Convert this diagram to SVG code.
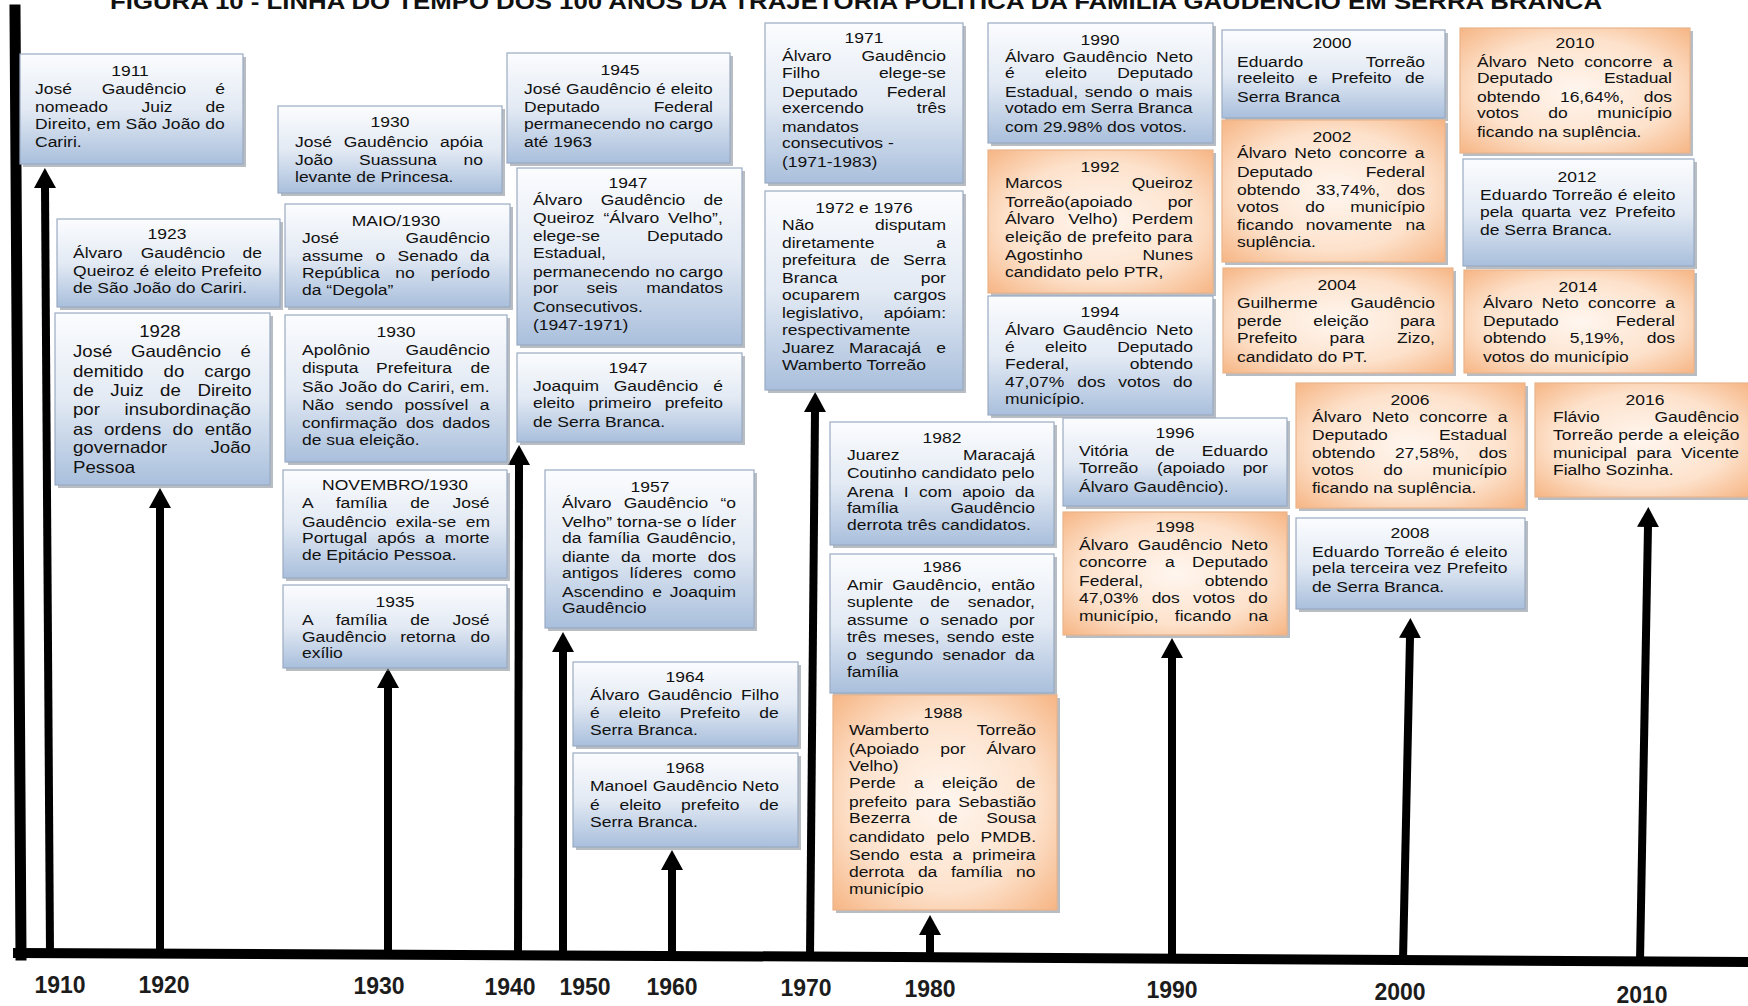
<svg xmlns="http://www.w3.org/2000/svg" width="1748" height="1006" viewBox="0 0 1748 1006">
<defs>
<linearGradient id="gb" x1="0" y1="0" x2="0" y2="1"><stop offset="0" stop-color="#fbfcfe"/><stop offset="0.5" stop-color="#e3eaf4"/><stop offset="1" stop-color="#a9bfdc"/></linearGradient>
<radialGradient id="go" cx="0.5" cy="0.5" r="0.75"><stop offset="0" stop-color="#fff6ef"/><stop offset="0.55" stop-color="#fde2cc"/><stop offset="1" stop-color="#f5ae79"/></radialGradient>
<marker id="ah" markerUnits="userSpaceOnUse" markerWidth="20" markerHeight="22" viewBox="0 0 20 22" refX="1" refY="11" orient="auto"><path d="M0,0 L20,11 L0,22 z" fill="#000"/></marker>
<style>
.bx text{font-family:"Liberation Sans",Arial,sans-serif;font-size:15.5px;fill:#111;transform-box:fill-box;transform-origin:0% 50%;transform:scaleX(1.13)}
.bx text.m{text-anchor:middle;transform-origin:50% 50%}
.bx text.e{text-anchor:end;transform-origin:100% 50%}
.lg text{font-size:16.5px}
.blue{fill:url(#gb);stroke:#9aabc2;stroke-width:1.2}
.orng{fill:url(#go);stroke:#e9b48c;stroke-width:1.2}
.sh{fill:#7d8794;opacity:.55}
.yr{font-family:"Liberation Sans",Arial,sans-serif;font-size:23px;font-weight:bold;fill:#1c1c1c;text-anchor:middle}
.ttl{font-family:"Liberation Sans",Arial,sans-serif;font-size:22px;font-weight:bold;fill:#111}
.ar{stroke:#000;stroke-width:8;fill:none;marker-end:url(#ah)}
.ax{stroke:#000;fill:none;stroke-linecap:square}
</style>
</defs>
<rect width="1748" height="1006" fill="#fff"/>
<text class="ttl" x="110" y="9" textLength="1492" lengthAdjust="spacingAndGlyphs">FIGURA 10 - LINHA DO TEMPO DOS 100 ANOS DA TRAJETÓRIA POLÍTICA DA FAMÍLIA GAUDÊNCIO EM SERRA BRANCA</text>

<g id="connectors">
<line class="ax" x1="15" y1="10" x2="21" y2="955" stroke-width="11"/>
<polyline class="ax" points="18,953 900,957 1748,962" stroke-width="10"/>
<line class="ar" x1="50" y1="953" x2="45" y2="187"/>
<line class="ar" x1="160" y1="953" x2="160" y2="507"/>
<line class="ar" x1="388" y1="954" x2="388" y2="687"/>
<line class="ar" x1="518" y1="955" x2="519" y2="464"/>
<line class="ar" x1="563" y1="955" x2="563" y2="651"/>
<line class="ar" x1="672" y1="955" x2="672" y2="869"/>
<line class="ar" x1="810" y1="956" x2="815" y2="411"/>
<line class="ar" x1="930" y1="956" x2="930" y2="934"/>
<line class="ar" x1="1172" y1="958" x2="1172" y2="657"/>
<line class="ar" x1="1403" y1="960" x2="1410" y2="637"/>
<line class="ar" x1="1640" y1="961" x2="1648" y2="526"/>
</g>

<g id="axis-labels">
<text class="yr" x="60" y="993">1910</text>
<text class="yr" x="164" y="993">1920</text>
<text class="yr" x="379" y="994">1930</text>
<text class="yr" x="510" y="995">1940</text>
<text class="yr" x="585" y="995">1950</text>
<text class="yr" x="672" y="995">1960</text>
<text class="yr" x="806" y="996">1970</text>
<text class="yr" x="930" y="997">1980</text>
<text class="yr" x="1172" y="998">1990</text>
<text class="yr" x="1400" y="1000">2000</text>
<text class="yr" x="1642" y="1003">2010</text>
</g>

<g id="n1911" class="bx">
<rect class="sh" x="23" y="57" width="223" height="110"/><rect class="blue" x="20" y="54" width="223" height="110"/>
<text class="m" x="130" y="76">1911</text>
<text x="35" y="94">José</text><text class="m" x="144" y="94">Gaudêncio</text><text class="e" x="225" y="94">é</text>
<text x="35" y="112">nomeado</text><text class="m" x="157" y="112">Juiz</text><text class="e" x="225" y="112">de</text>
<text x="35" y="129" textLength="168" lengthAdjust="spacing">Direito, em São João do</text>
<text x="35" y="147">Cariri.</text>
</g>

<g id="n1923" class="bx">
<rect class="sh" x="60" y="222" width="223" height="88"/><rect class="blue" x="57" y="219" width="223" height="88"/>
<text class="m" x="167" y="239">1923</text>
<text x="73" y="258">Álvaro</text><text class="m" x="183" y="258">Gaudêncio</text><text class="e" x="262" y="258">de</text>
<text x="73" y="276" textLength="167" lengthAdjust="spacing">Queiroz é eleito Prefeito</text>
<text x="73" y="293">de São João do Cariri.</text>
</g>

<g id="n1928" class="bx lg">
<rect class="sh" x="58" y="316" width="215" height="172"/><rect class="blue" x="55" y="313" width="215" height="172"/>
<text class="m" x="160" y="337">1928</text>
<text x="73" y="357">José</text><text class="m" x="176" y="357">Gaudêncio</text><text class="e" x="251" y="357">é</text>
<text x="73" y="377">demitido</text><text class="m" x="174" y="377">do</text><text class="e" x="251" y="377">cargo</text>
<text x="73" y="396" style="word-spacing:10px" textLength="158" lengthAdjust="spacing">de Juiz de Direito</text>
<text x="73" y="415">por</text><text class="e" x="251" y="415">insubordinação</text>
<text x="73" y="435" style="word-spacing:5.5px" textLength="158" lengthAdjust="spacing">as ordens do então</text>
<text x="73" y="453">governador</text><text class="e" x="251" y="453">João</text>
<text x="73" y="473">Pessoa</text>
</g>

<g id="n1930a" class="bx">
<rect class="sh" x="281" y="109" width="224" height="87"/><rect class="blue" x="278" y="106" width="224" height="87"/>
<text class="m" x="390" y="127">1930</text>
<text x="295" y="147">José</text><text class="m" x="386" y="147">Gaudêncio</text><text class="e" x="483" y="147">apóia</text>
<text x="295" y="165">João</text><text class="m" x="398" y="165">Suassuna</text><text class="e" x="483" y="165">no</text>
<text x="295" y="182">levante de Princesa.</text>
</g>

<g id="n1930maio" class="bx">
<rect class="sh" x="288" y="207" width="225" height="103"/><rect class="blue" x="285" y="204" width="225" height="103"/>
<text class="m" x="396" y="226">MAIO/1930</text>
<text x="302" y="243">José</text><text class="e" x="490" y="243">Gaudêncio</text>
<text x="302" y="261" style="word-spacing:6.5px" textLength="166" lengthAdjust="spacing">assume o Senado da</text>
<text x="302" y="278">República</text><text class="m" x="405" y="278">no</text><text class="e" x="490" y="278">período</text>
<text x="302" y="295">da “Degola”</text>
</g>

<g id="n1930b" class="bx">
<rect class="sh" x="288" y="318" width="222" height="147"/><rect class="blue" x="285" y="315" width="222" height="147"/>
<text class="m" x="396" y="337">1930</text>
<text x="302" y="355">Apolônio</text><text class="e" x="490" y="355">Gaudêncio</text>
<text x="302" y="373">disputa</text><text class="m" x="414" y="373">Prefeitura</text><text class="e" x="490" y="373">de</text>
<text x="302" y="392" textLength="166" lengthAdjust="spacing">São João do Cariri, em.</text>
<text x="302" y="410" style="word-spacing:5.9px" textLength="166" lengthAdjust="spacing">Não sendo possível a</text>
<text x="302" y="428">confirmação</text><text class="m" x="420" y="428">dos</text><text class="e" x="490" y="428">dados</text>
<text x="302" y="445">de sua eleição.</text>
</g>

<g id="n1930nov" class="bx">
<rect class="sh" x="286" y="473" width="224" height="108"/><rect class="blue" x="283" y="470" width="224" height="108"/>
<text class="m" x="395" y="490">NOVEMBRO/1930</text>
<text x="302" y="508" style="word-spacing:16px" textLength="166" lengthAdjust="spacing">A família de José</text>
<text x="302" y="527">Gaudêncio</text><text class="m" x="426" y="527">exila-se</text><text class="e" x="490" y="527">em</text>
<text x="302" y="543" style="word-spacing:4.5px" textLength="166" lengthAdjust="spacing">Portugal após a morte</text>
<text x="302" y="560">de Epitácio Pessoa.</text>
</g>

<g id="n1935" class="bx">
<rect class="sh" x="286" y="588" width="224" height="83"/><rect class="blue" x="283" y="585" width="224" height="83"/>
<text class="m" x="395" y="607">1935</text>
<text x="302" y="625" style="word-spacing:16px" textLength="166" lengthAdjust="spacing">A família de José</text>
<text x="302" y="642">Gaudêncio</text><text class="m" x="428" y="642">retorna</text><text class="e" x="490" y="642">do</text>
<text x="302" y="658">exílio</text>
</g>

<g id="n1945" class="bx">
<rect class="sh" x="510" y="56" width="223" height="110"/><rect class="blue" x="507" y="53" width="223" height="110"/>
<text class="m" x="620" y="75">1945</text>
<text x="524" y="94" textLength="167" lengthAdjust="spacing">José Gaudêncio é eleito</text>
<text x="524" y="112">Deputado</text><text class="e" x="713" y="112">Federal</text>
<text x="524" y="129">permanecendo</text><text class="m" x="655" y="129">no</text><text class="e" x="713" y="129">cargo</text>
<text x="524" y="147">até 1963</text>
</g>

<g id="n1947a" class="bx">
<rect class="sh" x="520" y="171" width="225" height="177"/><rect class="blue" x="517" y="168" width="225" height="177"/>
<text class="m" x="628" y="188">1947</text>
<text x="533" y="205">Álvaro</text><text class="m" x="643" y="205">Gaudêncio</text><text class="e" x="723" y="205">de</text>
<text x="533" y="223" style="word-spacing:3.5px" textLength="168" lengthAdjust="spacing">Queiroz “Álvaro Velho”,</text>
<text x="533" y="241">elege-se</text><text class="e" x="723" y="241">Deputado</text>
<text x="533" y="258">Estadual,</text>
<text x="533" y="277">permanecendo</text><text class="m" x="665" y="277">no</text><text class="e" x="723" y="277">cargo</text>
<text x="533" y="293">por</text><text class="m" x="602" y="293">seis</text><text class="e" x="723" y="293">mandatos</text>
<text x="533" y="312">Consecutivos.</text>
<text x="533" y="330">(1947-1971)</text>
</g>

<g id="n1947b" class="bx">
<rect class="sh" x="520" y="356" width="225" height="89"/><rect class="blue" x="517" y="353" width="225" height="89"/>
<text class="m" x="628" y="373">1947</text>
<text x="533" y="391">Joaquim</text><text class="m" x="656" y="391">Gaudêncio</text><text class="e" x="723" y="391">é</text>
<text x="533" y="408">eleito</text><text class="m" x="620" y="408">primeiro</text><text class="e" x="723" y="408">prefeito</text>
<text x="533" y="427">de Serra Branca.</text>
</g>

<g id="n1957" class="bx">
<rect class="sh" x="548" y="473" width="209" height="158"/><rect class="blue" x="545" y="470" width="209" height="158"/>
<text class="m" x="650" y="492">1957</text>
<text x="562" y="508">Álvaro</text><text class="m" x="666" y="508">Gaudêncio</text><text class="e" x="736" y="508">“o</text>
<text x="562" y="527" textLength="154" lengthAdjust="spacing">Velho” torna-se o líder</text>
<text x="562" y="543">da</text><text class="m" x="614" y="543">família</text><text class="e" x="736" y="543">Gaudêncio,</text>
<text x="562" y="562" style="word-spacing:5.7px" textLength="154" lengthAdjust="spacing">diante da morte dos</text>
<text x="562" y="578">antigos</text><text class="m" x="656" y="578">líderes</text><text class="e" x="736" y="578">como</text>
<text x="562" y="597">Ascendino</text><text class="m" x="657" y="597">e</text><text class="e" x="736" y="597">Joaquim</text>
<text x="562" y="613">Gaudêncio</text>
</g>

<g id="n1964" class="bx">
<rect class="sh" x="576" y="665" width="225" height="84"/><rect class="blue" x="573" y="662" width="225" height="84"/>
<text class="m" x="685" y="682">1964</text>
<text x="590" y="700">Álvaro</text><text class="m" x="690" y="700">Gaudêncio</text><text class="e" x="779" y="700">Filho</text>
<text x="590" y="718" style="word-spacing:12.6px" textLength="167" lengthAdjust="spacing">é eleito Prefeito de</text>
<text x="590" y="735">Serra Branca.</text>
</g>

<g id="n1968" class="bx">
<rect class="sh" x="576" y="756" width="225" height="94"/><rect class="blue" x="573" y="753" width="225" height="94"/>
<text class="m" x="685" y="773">1968</text>
<text x="590" y="791">Manoel</text><text class="m" x="695" y="791">Gaudêncio</text><text class="e" x="779" y="791">Neto</text>
<text x="590" y="810" style="word-spacing:13.2px" textLength="167" lengthAdjust="spacing">é eleito prefeito de</text>
<text x="590" y="827">Serra Branca.</text>
</g>

<g id="n1971" class="bx">
<rect class="sh" x="768" y="26" width="198" height="160"/><rect class="blue" x="765" y="23" width="198" height="160"/>
<text class="m" x="864" y="43">1971</text>
<text x="782" y="61">Álvaro</text><text class="e" x="946" y="61">Gaudêncio</text>
<text x="782" y="78">Filho</text><text class="e" x="946" y="78">elege-se</text>
<text x="782" y="97">Deputado</text><text class="e" x="946" y="97">Federal</text>
<text x="782" y="113">exercendo</text><text class="e" x="946" y="113">três</text>
<text x="782" y="132">mandatos</text>
<text x="782" y="148">consecutivos -</text>
<text x="782" y="167">(1971-1983)</text>
</g>

<g id="n1972" class="bx">
<rect class="sh" x="768" y="194" width="198" height="199"/><rect class="blue" x="765" y="191" width="198" height="199"/>
<text class="m" x="864" y="213">1972 e 1976</text>
<text x="782" y="230">Não</text><text class="e" x="946" y="230">disputam</text>
<text x="782" y="248">diretamente</text><text class="e" x="946" y="248">a</text>
<text x="782" y="265">prefeitura</text><text class="m" x="880" y="265">de</text><text class="e" x="946" y="265">Serra</text>
<text x="782" y="283">Branca</text><text class="e" x="946" y="283">por</text>
<text x="782" y="300">ocuparem</text><text class="e" x="946" y="300">cargos</text>
<text x="782" y="318">legislativo,</text><text class="e" x="946" y="318">apóiam:</text>
<text x="782" y="335">respectivamente</text>
<text x="782" y="353">Juarez</text><text class="m" x="885" y="353">Maracajá</text><text class="e" x="946" y="353">e</text>
<text x="782" y="370">Wamberto Torreão</text>
</g>

<g id="n1982" class="bx">
<rect class="sh" x="833" y="425" width="224" height="123"/><rect class="blue" x="830" y="422" width="224" height="123"/>
<text class="m" x="942" y="443">1982</text>
<text x="847" y="460">Juarez</text><text class="e" x="1035" y="460">Maracajá</text>
<text x="847" y="478" textLength="166" lengthAdjust="spacing">Coutinho candidato pelo</text>
<text x="847" y="497" style="word-spacing:4.7px" textLength="166" lengthAdjust="spacing">Arena I com apoio da</text>
<text x="847" y="513">família</text><text class="e" x="1035" y="513">Gaudêncio</text>
<text x="847" y="530">derrota três candidatos.</text>
</g>

<g id="n1986" class="bx">
<rect class="sh" x="833" y="557" width="224" height="139"/><rect class="blue" x="830" y="554" width="224" height="139"/>
<text class="m" x="942" y="572">1986</text>
<text x="847" y="590">Amir</text><text class="m" x="937" y="590">Gaudêncio,</text><text class="e" x="1035" y="590">então</text>
<text x="847" y="607">suplente</text><text class="m" x="940" y="607">de</text><text class="e" x="1035" y="607">senador,</text>
<text x="847" y="625" style="word-spacing:5.7px" textLength="166" lengthAdjust="spacing">assume o senado por</text>
<text x="847" y="642" style="word-spacing:1.9px" textLength="166" lengthAdjust="spacing">três meses, sendo este</text>
<text x="847" y="660" style="word-spacing:3.9px" textLength="166" lengthAdjust="spacing">o segundo senador da</text>
<text x="847" y="677">família</text>
</g>

<g id="n1988" class="bx">
<rect class="sh" x="836" y="698" width="224" height="215"/><rect class="orng" x="833" y="695" width="224" height="215"/>
<text class="m" x="943" y="718">1988</text>
<text x="849" y="735">Wamberto</text><text class="e" x="1036" y="735">Torreão</text>
<text x="849" y="754">(Apoiado</text><text class="m" x="953" y="754">por</text><text class="e" x="1036" y="754">Álvaro</text>
<text x="849" y="771">Velho)</text>
<text x="849" y="788" style="word-spacing:11.9px" textLength="165" lengthAdjust="spacing">Perde a eleição de</text>
<text x="849" y="807">prefeito</text><text class="m" x="933" y="807">para</text><text class="e" x="1036" y="807">Sebastião</text>
<text x="849" y="823">Bezerra</text><text class="m" x="948" y="823">de</text><text class="e" x="1036" y="823">Sousa</text>
<text x="849" y="842">candidato</text><text class="m" x="953" y="842">pelo</text><text class="e" x="1036" y="842">PMDB.</text>
<text x="849" y="860" style="word-spacing:4.5px" textLength="165" lengthAdjust="spacing">Sendo esta a primeira</text>
<text x="849" y="877" style="word-spacing:7.9px" textLength="165" lengthAdjust="spacing">derrota da família no</text>
<text x="849" y="894">município</text>
</g>

<g id="n1990" class="bx">
<rect class="sh" x="991" y="26" width="225" height="120"/><rect class="blue" x="988" y="23" width="225" height="120"/>
<text class="m" x="1100" y="45">1990</text>
<text x="1005" y="62">Álvaro</text><text class="m" x="1105" y="62">Gaudêncio</text><text class="e" x="1193" y="62">Neto</text>
<text x="1005" y="78">é</text><text class="m" x="1066" y="78">eleito</text><text class="e" x="1193" y="78">Deputado</text>
<text x="1005" y="97" style="word-spacing:1.6px" textLength="166" lengthAdjust="spacing">Estadual, sendo o mais</text>
<text x="1005" y="113" textLength="166" lengthAdjust="spacing">votado em Serra Branca</text>
<text x="1005" y="132">com 29.98% dos votos.</text>
</g>

<g id="n1992" class="bx">
<rect class="sh" x="991" y="153" width="225" height="143"/><rect class="orng" x="988" y="150" width="225" height="143"/>
<text class="m" x="1100" y="172">1992</text>
<text x="1005" y="188">Marcos</text><text class="e" x="1193" y="188">Queiroz</text>
<text x="1005" y="207">Torreão(apoiado</text><text class="e" x="1193" y="207">por</text>
<text x="1005" y="224">Álvaro</text><text class="m" x="1093" y="224">Velho)</text><text class="e" x="1193" y="224">Perdem</text>
<text x="1005" y="242" textLength="166" lengthAdjust="spacing">eleição de prefeito para</text>
<text x="1005" y="260">Agostinho</text><text class="e" x="1193" y="260">Nunes</text>
<text x="1005" y="277">candidato pelo PTR,</text>
</g>

<g id="n1994" class="bx">
<rect class="sh" x="991" y="299" width="225" height="119"/><rect class="blue" x="988" y="296" width="225" height="119"/>
<text class="m" x="1100" y="317">1994</text>
<text x="1005" y="335">Álvaro</text><text class="m" x="1105" y="335">Gaudêncio</text><text class="e" x="1193" y="335">Neto</text>
<text x="1005" y="352">é</text><text class="m" x="1066" y="352">eleito</text><text class="e" x="1193" y="352">Deputado</text>
<text x="1005" y="369">Federal,</text><text class="e" x="1193" y="369">obtendo</text>
<text x="1005" y="387" style="word-spacing:7.1px" textLength="166" lengthAdjust="spacing">47,07% dos votos do</text>
<text x="1005" y="404">município.</text>
</g>

<g id="n1996" class="bx">
<rect class="sh" x="1066" y="421" width="224" height="88"/><rect class="blue" x="1063" y="418" width="224" height="88"/>
<text class="m" x="1175" y="438">1996</text>
<text x="1079" y="456">Vitória</text><text class="m" x="1165" y="456">de</text><text class="e" x="1268" y="456">Eduardo</text>
<text x="1079" y="473">Torreão</text><text class="m" x="1191" y="473">(apoiado</text><text class="e" x="1268" y="473">por</text>
<text x="1079" y="492">Álvaro Gaudêncio).</text>
</g>

<g id="n1998" class="bx">
<rect class="sh" x="1066" y="515" width="224" height="123"/><rect class="orng" x="1063" y="512" width="224" height="123"/>
<text class="m" x="1175" y="532">1998</text>
<text x="1079" y="550">Álvaro</text><text class="m" x="1180" y="550">Gaudêncio</text><text class="e" x="1268" y="550">Neto</text>
<text x="1079" y="567">concorre</text><text class="m" x="1170" y="567">a</text><text class="e" x="1268" y="567">Deputado</text>
<text x="1079" y="586">Federal,</text><text class="e" x="1268" y="586">obtendo</text>
<text x="1079" y="603" style="word-spacing:7.4px" textLength="167" lengthAdjust="spacing">47,03% dos votos do</text>
<text x="1079" y="621">município,</text><text class="m" x="1203" y="621">ficando</text><text class="e" x="1268" y="621">na</text>
</g>

<g id="n2000" class="bx">
<rect class="sh" x="1225" y="33" width="223" height="88"/><rect class="blue" x="1222" y="30" width="223" height="88"/>
<text class="m" x="1332" y="48">2000</text>
<text x="1237" y="67">Eduardo</text><text class="e" x="1425" y="67">Torreão</text>
<text x="1237" y="83" style="word-spacing:7.7px" textLength="166" lengthAdjust="spacing">reeleito e Prefeito de</text>
<text x="1237" y="102">Serra Branca</text>
</g>

<g id="n2002" class="bx">
<rect class="sh" x="1225" y="123" width="223" height="142"/><rect class="orng" x="1222" y="120" width="223" height="142"/>
<text class="m" x="1332" y="142">2002</text>
<text x="1237" y="158" style="word-spacing:2.5px" textLength="166" lengthAdjust="spacing">Álvaro Neto concorre a</text>
<text x="1237" y="177">Deputado</text><text class="e" x="1425" y="177">Federal</text>
<text x="1237" y="195">obtendo</text><text class="m" x="1348" y="195">33,74%,</text><text class="e" x="1425" y="195">dos</text>
<text x="1237" y="212">votos</text><text class="m" x="1315" y="212">do</text><text class="e" x="1425" y="212">município</text>
<text x="1237" y="230">ficando</text><text class="m" x="1349" y="230">novamente</text><text class="e" x="1425" y="230">na</text>
<text x="1237" y="247">suplência.</text>
</g>

<g id="n2004" class="bx">
<rect class="sh" x="1226" y="271" width="230" height="105"/><rect class="orng" x="1223" y="268" width="230" height="105"/>
<text class="m" x="1337" y="290">2004</text>
<text x="1237" y="308">Guilherme</text><text class="e" x="1435" y="308">Gaudêncio</text>
<text x="1237" y="326">perde</text><text class="m" x="1341" y="326">eleição</text><text class="e" x="1435" y="326">para</text>
<text x="1237" y="343">Prefeito</text><text class="m" x="1347" y="343">para</text><text class="e" x="1435" y="343">Zizo,</text>
<text x="1237" y="362">candidato do PT.</text>
</g>

<g id="n2006" class="bx">
<rect class="sh" x="1299" y="386" width="229" height="125"/><rect class="orng" x="1296" y="383" width="229" height="125"/>
<text class="m" x="1410" y="405">2006</text>
<text x="1312" y="422" style="word-spacing:4.8px" textLength="173" lengthAdjust="spacing">Álvaro Neto concorre a</text>
<text x="1312" y="440">Deputado</text><text class="e" x="1507" y="440">Estadual</text>
<text x="1312" y="458">obtendo</text><text class="m" x="1427" y="458">27,58%,</text><text class="e" x="1507" y="458">dos</text>
<text x="1312" y="475">votos</text><text class="m" x="1393" y="475">do</text><text class="e" x="1507" y="475">município</text>
<text x="1312" y="493">ficando na suplência.</text>
</g>

<g id="n2008" class="bx">
<rect class="sh" x="1299" y="521" width="229" height="91"/><rect class="blue" x="1296" y="518" width="229" height="91"/>
<text class="m" x="1410" y="538">2008</text>
<text x="1312" y="557" textLength="173" lengthAdjust="spacing">Eduardo Torreão é eleito</text>
<text x="1312" y="573" textLength="173" lengthAdjust="spacing">pela terceira vez Prefeito</text>
<text x="1312" y="592">de Serra Branca.</text>
</g>

<g id="n2010" class="bx">
<rect class="sh" x="1463" y="31" width="230" height="125"/><rect class="orng" x="1460" y="28" width="230" height="125"/>
<text class="m" x="1575" y="48">2010</text>
<text x="1477" y="67" style="word-spacing:4.8px" textLength="173" lengthAdjust="spacing">Álvaro Neto concorre a</text>
<text x="1477" y="83">Deputado</text><text class="e" x="1672" y="83">Estadual</text>
<text x="1477" y="102">obtendo</text><text class="m" x="1592" y="102">16,64%,</text><text class="e" x="1672" y="102">dos</text>
<text x="1477" y="118">votos</text><text class="m" x="1558" y="118">do</text><text class="e" x="1672" y="118">município</text>
<text x="1477" y="137">ficando na suplência.</text>
</g>

<g id="n2012" class="bx">
<rect class="sh" x="1466" y="162" width="231" height="107"/><rect class="blue" x="1463" y="159" width="231" height="107"/>
<text class="m" x="1577" y="182">2012</text>
<text x="1480" y="200" textLength="173" lengthAdjust="spacing">Eduardo Torreão é eleito</text>
<text x="1480" y="217" style="word-spacing:3.1px" textLength="173" lengthAdjust="spacing">pela quarta vez Prefeito</text>
<text x="1480" y="235">de Serra Branca.</text>
</g>

<g id="n2014" class="bx">
<rect class="sh" x="1467" y="273" width="230" height="103"/><rect class="orng" x="1464" y="270" width="230" height="103"/>
<text class="m" x="1578" y="292">2014</text>
<text x="1483" y="308" style="word-spacing:3.8px" textLength="170" lengthAdjust="spacing">Álvaro Neto concorre a</text>
<text x="1483" y="326">Deputado</text><text class="e" x="1675" y="326">Federal</text>
<text x="1483" y="343">obtendo</text><text class="m" x="1597" y="343">5,19%,</text><text class="e" x="1675" y="343">dos</text>
<text x="1483" y="362">votos do município</text>
</g>

<g id="n2016" class="bx">
<rect class="sh" x="1538" y="386" width="215" height="114"/><rect class="orng" x="1535" y="383" width="215" height="114"/>
<text class="m" x="1645" y="405">2016</text>
<text x="1553" y="422">Flávio</text><text class="e" x="1739" y="422">Gaudêncio</text>
<text x="1553" y="440" textLength="165" lengthAdjust="spacing">Torreão perde a eleição</text>
<text x="1553" y="458">municipal</text><text class="m" x="1654" y="458">para</text><text class="e" x="1739" y="458">Vicente</text>
<text x="1553" y="475">Fialho Sozinha.</text>
</g>
</svg>
